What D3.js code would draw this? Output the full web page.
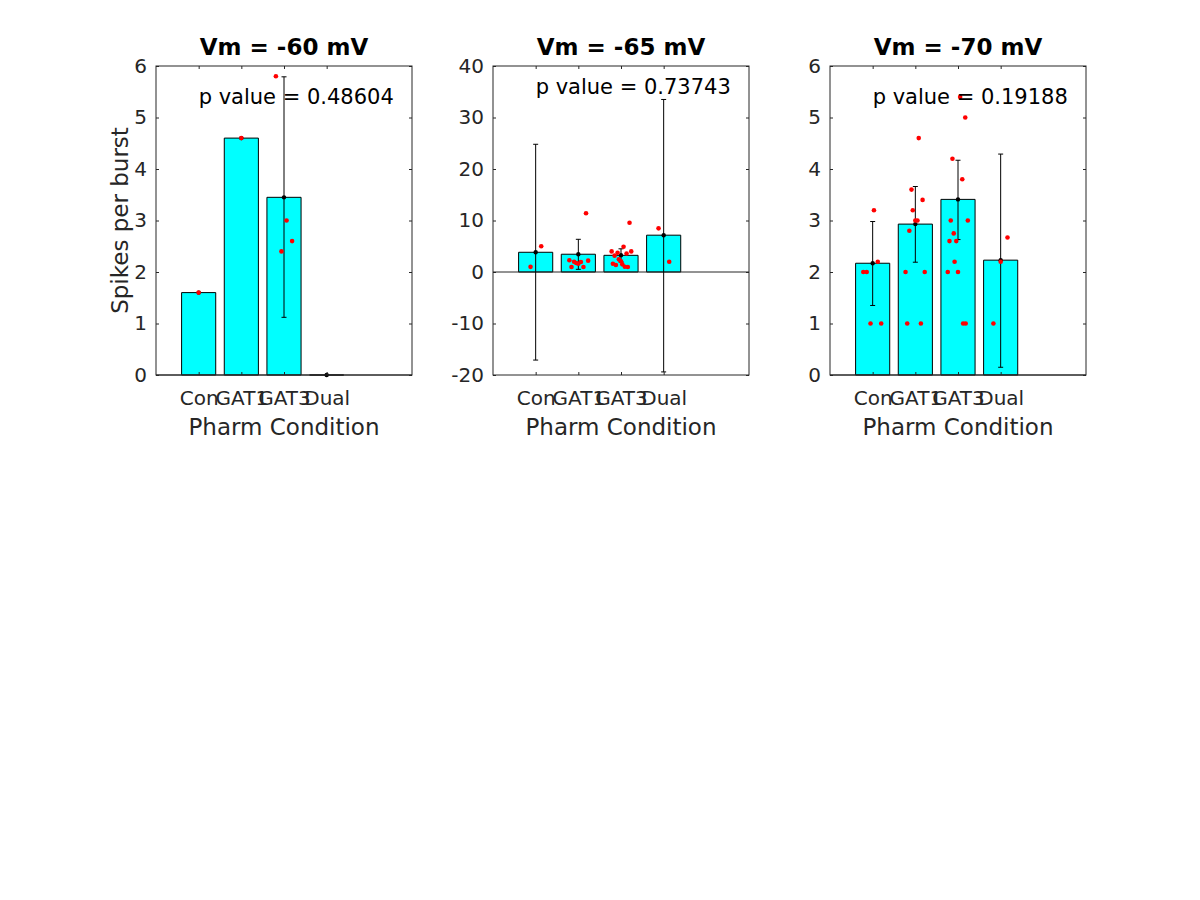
<!DOCTYPE html>
<html>
<head>
<meta charset="utf-8">
<script src="https://cdn.jsdelivr.net/npm/d3@7"></script>
<style>
  html, body { margin: 0; padding: 0; background: #ffffff; }
  svg { display: block; font-family: "DejaVu Sans", sans-serif; }
</style>
</head>
<body>
<svg id="chart" width="1200" height="900"></svg>
<script>
// ---------------- data ----------------
const categories = ["Con", "GAT1", "GAT3", "Dual"];
const panelTitles = ["Vm = -60 mV", "Vm = -65 mV", "Vm = -70 mV"];
const pValueLabels = ["p value = 0.48604", "p value = 0.73743", "p value = 0.19188"];
const yLabel = "Spikes per burst";
const xLabel = "Pharm Condition";

const yDomain60 = [0, 6];
const yDomain65 = [-20, 40];
const yDomain70 = [0, 6];
const yTicks60 = [0, 1, 2, 3, 4, 5, 6];
const yTicks65 = [-20, -10, 0, 10, 20, 30, 40];
const yTicks70 = [0, 1, 2, 3, 4, 5, 6];

// bar heights (means)
const means60 = [1.6, 4.6, 3.45, 0];
const means65 = [3.83, 3.45, 3.24, 7.15];
const means70 = [2.17, 2.93, 3.41, 2.23];

// error bar ends (null = none)
const errLow60  = [null, null, 1.12, null];
const errHigh60 = [null, null, 5.79, null];
const errLow65  = [-17.1, 0.52, 1.94, -19.4];
const errHigh65 = [24.8, 6.35, 4.5, 33.5];
const errLow70  = [1.35, 2.19, 2.63, 0.15];
const errHigh70 = [2.98, 3.66, 4.17, 4.29];

// individual points: category index, jitter (category units), value
const dotCat60 = [0, 1, 2, 2, 2, 2];
const dotJit60 = [0, 0, -0.19, 0.06, 0.19, -0.06];
const dotVal60 = [1.6, 4.6, 5.8, 3.0, 2.6, 2.4];

const dotCat65 = [0, 0,
  1, 1, 1, 1, 1, 1, 1, 1, 1,
  2, 2, 2, 2, 2, 2, 2, 2, 2, 2, 2, 2, 2, 2,
  3, 3];
const dotJit65 = [0.13, -0.12,
  0.18, -0.21, -0.10, -0.05, 0.0, 0.06, 0.23, -0.16, 0.12,
  0.20, -0.22, -0.08, 0.06, 0.24, 0.13, -0.15, -0.05, 0.0, -0.19, -0.12, 0.03, 0.09, 0.16,
  -0.12, 0.13];
const dotVal65 = [5.0, 1.0,
  11.4, 2.27, 2.0, 1.75, 1.6, 1.94, 2.2, 0.97, 0.97,
  9.57, 4.0, 3.75, 4.9, 4.0, 3.6, 3.17, 2.46, 2.07, 1.6, 1.36, 1.49, 1.03, 0.97,
  8.48, 2.0];

const dotCat70 = [0, 0, 0, 0, 0, 0,
  1, 1, 1, 1, 1, 1, 1, 1, 1, 1, 1,
  2, 2, 2, 2, 2, 2, 2, 2, 2, 2, 2, 2, 2, 2,
  3, 3, 3];
const dotJit70 = [0.03, -0.22, -0.14, 0.12, -0.05, 0.20,
  0.08, -0.09, 0.17, -0.06, 0.0, 0.05, -0.14, -0.23, 0.22, -0.19, 0.13,
  0.05, 0.17, -0.13, 0.10, -0.17, 0.23, -0.10, -0.20, -0.04, -0.08, -0.24, 0.0, 0.12, 0.18,
  -0.17, 0.0, 0.16];
const dotVal70 = [3.2, 2.0, 2.0, 2.2, 1.0, 1.0,
  4.6, 3.6, 3.4, 3.2, 3.0, 3.0, 2.8, 2.0, 2.0, 1.0, 1.0,
  5.4, 5.0, 4.2, 3.8, 3.0, 3.0, 2.75, 2.6, 2.6, 2.2, 2.0, 2.0, 1.0, 1.0,
  1.0, 2.2, 2.67];

const xDomain = [0, 6];
const xTicks = [1, 2, 3, 4];
const barWidth = 0.8;

// ---------------- layout ----------------
const panels = [
  { left: 156, title: panelTitles[0], p: pValueLabels[0], yDom: yDomain60, yTicks: yTicks60,
    means: means60, lo: errLow60, hi: errHigh60, dc: dotCat60, dj: dotJit60, dv: dotVal60, ylab: true },
  { left: 493, title: panelTitles[1], p: pValueLabels[1], yDom: yDomain65, yTicks: yTicks65,
    means: means65, lo: errLow65, hi: errHigh65, dc: dotCat65, dj: dotJit65, dv: dotVal65, ylab: false },
  { left: 830, title: panelTitles[2], p: pValueLabels[2], yDom: yDomain70, yTicks: yTicks70,
    means: means70, lo: errLow70, hi: errHigh70, dc: dotCat70, dj: dotJit70, dv: dotVal70, ylab: false }
];
const W = 256, TOP = 66, H = 309;
const axisColor = "#262626";
const tickFont = 20, labelFont = 23, titleFont = 23, textFont = 21;

const svg = d3.select("#chart");

panels.forEach(pn => {
  const x = d3.scaleLinear().domain(xDomain).range([pn.left, pn.left + W]);
  const y = d3.scaleLinear().domain(pn.yDom).range([TOP + H, TOP]);
  const g = svg.append("g");

  // bars (path so zero-height bars still show their edge)
  pn.means.forEach((m, i) => {
    const x0 = x(i + 1 - barWidth / 2), x1 = x(i + 1 + barWidth / 2);
    const y0 = y(0), y1 = y(m);
    const p = d3.path();
    p.moveTo(x0, y0); p.lineTo(x0, y1); p.lineTo(x1, y1); p.lineTo(x1, y0); p.closePath();
    g.append("path").attr("d", p.toString())
      .attr("fill", "#00ffff").attr("stroke", "#000").attr("stroke-width", 1);
  });

  // baseline at y = 0
  g.append("line")
    .attr("x1", x(xDomain[0])).attr("x2", x(xDomain[1]))
    .attr("y1", y(0)).attr("y2", y(0))
    .attr("stroke", axisColor).attr("stroke-width", 1);

  // error bars
  pn.means.forEach((m, i) => {
    const cx = x(i + 1);
    if (pn.lo[i] !== null && pn.hi[i] !== null) {
      g.append("line").attr("x1", cx).attr("x2", cx)
        .attr("y1", y(pn.lo[i])).attr("y2", y(pn.hi[i]))
        .attr("stroke", "#000").attr("stroke-width", 1);
      [pn.lo[i], pn.hi[i]].forEach(v => {
        g.append("line").attr("x1", cx - 2.5).attr("x2", cx + 2.5)
          .attr("y1", y(v)).attr("y2", y(v))
          .attr("stroke", "#000").attr("stroke-width", 1);
      });
    }
    g.append("circle").attr("cx", cx).attr("cy", y(m)).attr("r", 2.2).attr("fill", "#000");
  });

  // individual points
  pn.dv.forEach((v, k) => {
    g.append("circle")
      .attr("cx", x(pn.dc[k] + 1 + pn.dj[k]))
      .attr("cy", y(v))
      .attr("r", 2.3)
      .attr("fill", "#ff0000");
  });

  // axes box
  g.append("rect")
    .attr("x", x(xDomain[0])).attr("y", y(pn.yDom[1]))
    .attr("width", x(xDomain[1]) - x(xDomain[0]))
    .attr("height", y(pn.yDom[0]) - y(pn.yDom[1]))
    .attr("fill", "none").attr("stroke", axisColor).attr("stroke-width", 1);

  // bottom axis
  const xb = d3.axisBottom(x).tickValues(xTicks).tickSize(-3).tickPadding(16)
    .tickFormat((d, i) => categories[i]);
  const gxb = g.append("g").attr("transform", `translate(0,${y(pn.yDom[0])})`).call(xb);
  // top ticks
  const xt = d3.axisTop(x).tickValues(xTicks).tickSize(-3).tickFormat("");
  const gxt = g.append("g").attr("transform", `translate(0,${y(pn.yDom[1])})`).call(xt);
  // left axis (plain hyphen for negatives, as in the reference)
  const yl = d3.axisLeft(y).tickValues(pn.yTicks).tickSize(-3).tickPadding(9).tickFormat(d => String(d));
  const gyl = g.append("g").attr("transform", `translate(${x(xDomain[0])},0)`).call(yl);
  // right ticks
  const yr = d3.axisRight(y).tickValues(pn.yTicks).tickSize(-3).tickFormat("");
  const gyr = g.append("g").attr("transform", `translate(${x(xDomain[1])},0)`).call(yr);

  [gxb, gxt, gyl, gyr].forEach(a => {
    a.select(".domain").remove();
    a.selectAll(".tick line").attr("stroke", axisColor);
    a.selectAll(".tick text").attr("fill", axisColor)
      .style("font-family", "DejaVu Sans").style("font-size", tickFont + "px");
  });
  gxb.selectAll(".tick text").attr("dy", "0.71em");

  // title
  g.append("text")
    .attr("x", (x(xDomain[0]) + x(xDomain[1])) / 2).attr("y", 55)
    .attr("text-anchor", "middle")
    .style("font-size", titleFont + "px").style("font-weight", "bold")
    .attr("fill", "#000").text(pn.title);

  // x label
  g.append("text")
    .attr("x", (x(xDomain[0]) + x(xDomain[1])) / 2).attr("y", 435)
    .attr("text-anchor", "middle")
    .style("font-size", labelFont + "px")
    .attr("fill", axisColor).text(xLabel);

  // y label
  if (pn.ylab) {
    const cy = (y(pn.yDom[0]) + y(pn.yDom[1])) / 2;
    g.append("text")
      .attr("transform", `translate(128,${cy}) rotate(-90)`)
      .attr("text-anchor", "middle")
      .style("font-size", labelFont + "px")
      .attr("fill", axisColor).text(yLabel);
  }

  // p value annotation at (1, 0.9*ymax), middle aligned
  g.append("text")
    .attr("x", x(1)).attr("y", y(0.9 * pn.yDom[1]))
    .attr("dy", "0.35em")
    .style("font-size", textFont + "px")
    .attr("fill", "#000").text(pn.p);
});
</script>
</body>
</html>
